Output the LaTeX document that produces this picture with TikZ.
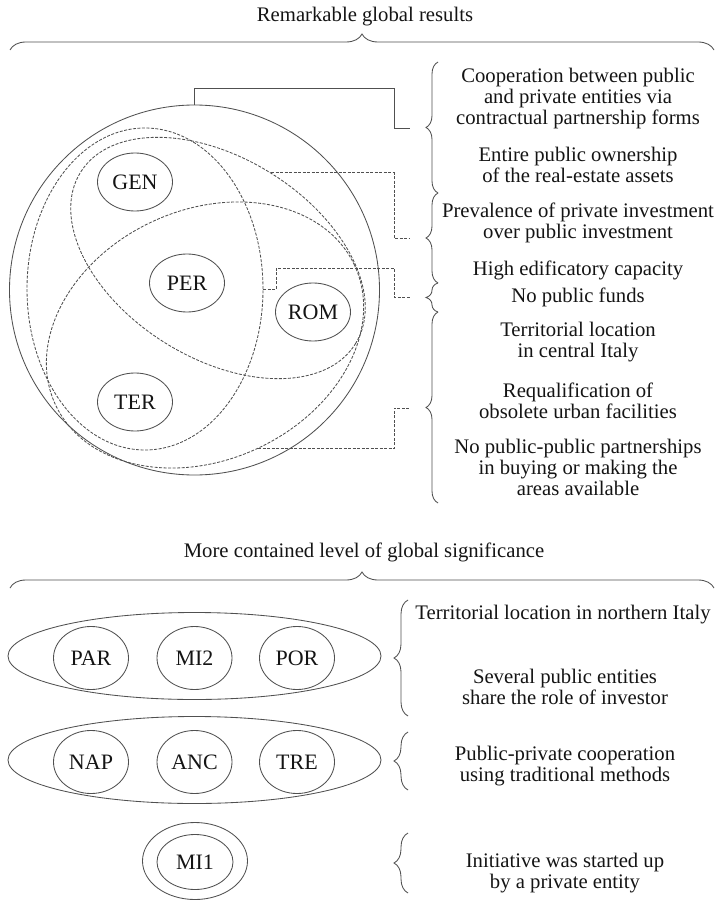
\documentclass[tikz,border=0pt]{standalone}
\usepackage{fontspec}
\setmainfont{Liberation Serif}
\usetikzlibrary{shapes.geometric,decorations.pathreplacing}
\definecolor{Ink}{HTML}{141414}
\definecolor{Rule}{HTML}{505050}

\begin{document}
\begin{tikzpicture}[x=1pt,y=-1pt,
      font=\fontsize{20.7}{21}\selectfont,
      line/.style={draw=Rule,line width=0.85pt},
      link/.style={line,dash pattern=on 3pt off 1.5pt},
      venn/.style={ellipse,link,inner sep=0pt},
      case/.style={ellipse,line,text=Ink,inner sep=0pt,font=\fontsize{22}{22}\selectfont,
                   minimum width=75pt,minimum height=58pt},
      group/.style={ellipse,line,inner sep=0pt},
      note/.style={align=center,text=Ink,inner sep=0pt},
      grp/.style={line,decorate,decoration={brace,amplitude=#1}},
      grp/.default=12pt]
    \useasboundingbox (0,0) rectangle (716,909);
    % upper part
    \node[note] (top) at (365,17) {Remarkable global results};
    \draw[grp=16pt] (10,50) -- (714,50);
    \node[circle,line,minimum size=370pt,inner sep=0pt] (all) at (194.5,290) {};
    \node[venn,minimum width=236pt,minimum height=322pt] (gpt) at (145,289) {};
    \node[venn,minimum width=324pt,minimum height=200pt,rotate=-32] (gpr) at (218,258) {};
    \node[venn,minimum width=330pt,minimum height=250pt,rotate=25] (prt) at (205,335) {};
    \node[case] (gen) at (135,182) {GEN};
    \node[case] (per) at (187,283) {PER};
    \node[case] (rom) at (313,312) {ROM};
    \node[case] (ter) at (135,402) {TER};
    \coordinate (pA) at (410,128);
    \coordinate (pB) at (410,238);
    \coordinate (pC) at (410,297);
    \coordinate (pD) at (410,408);
    \draw[line] (all.north) -- ++(0,-16) -| (394,128) -- (pA);
    \draw[link] (gpr.north) -| (394,238) -- (pB);
    \draw[link] (gpt.east) -- ++(13,0) |- (394,268) |- (pC);
    \draw[link] (prt.south) -| (394,408) -- (pD);
    \draw[grp] (438,193) -- (438,62);
    \draw[grp] (438,283) -- (438,193);
    \draw[grp] (438,312) -- (438,283);
    \draw[grp] (438,503) -- (438,312);
    \node[note] (coop) at (578,99) {Cooperation between public\\and private entities via\\contractual partnership forms};
    \node[note] (owner) at (578,165) {Entire public ownership\\of the real-estate assets};
    \node[note] (prev) at (578,223) {Prevalence of private investment\\over public investment};
    \node[note] (edif) at (578,270) {High edificatory capacity};
    \node[note] (funds) at (578,297) {No public funds};
    \node[note] (central) at (578,342) {Territorial location\\in central Italy};
    \node[note] (requal) at (578,401) {Requalification of\\obsolete urban facilities};
    \node[note] (nopp) at (578,467) {No public-public partnerships\\in buying or making the\\areas available};
    % lower part
    \node[note] (mid) at (364,552) {More contained level of global significance};
    \draw[grp=16pt] (10,588) -- (714,588);
    \node[group,minimum width=373pt,minimum height=87pt] (gnorth) at (194.5,656) {};
    \node[case,minimum height=63pt] (par) at (91,658) {PAR};
    \node[case,minimum height=63pt] (mitwo) at (194.5,658) {MI2};
    \node[case,minimum height=63pt] (por) at (297,658) {POR};
    \node[group,minimum width=373pt,minimum height=87pt] (gtrad) at (194.5,760) {};
    \node[case,minimum height=63pt] (nap) at (91,762) {NAP};
    \node[case,minimum height=63pt] (anc) at (194.5,762) {ANC};
    \node[case,minimum height=63pt] (tre) at (297,762) {TRE};
    \node[group,minimum width=105pt,minimum height=77pt] (gpriv) at (195,861) {};
    \node[case,minimum width=76pt,minimum height=55pt] (mione) at (195,862) {MI1};
    \draw[grp=14pt] (408,716) -- (408,600);
    \draw[grp=14pt] (408,790) -- (408,732);
    \draw[grp=14pt] (408,893) -- (408,833);
    \node[note] (northit) at (563,615) {Territorial location in northern Italy};
    \node[note] (shared) at (565,687) {Several public entities\\share the role of investor};
    \node[note] (trad) at (565,766) {Public-private cooperation\\using traditional methods};
    \node[note] (init) at (565,873) {Initiative was started up\\by a private entity};
  \end{tikzpicture}
\end{document}
